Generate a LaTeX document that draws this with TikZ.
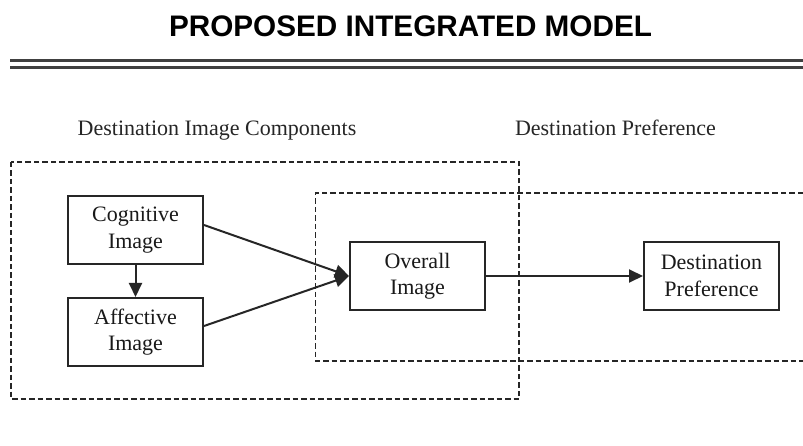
\documentclass[tikz,border=0pt]{standalone}
\usepackage{fontspec}
\setmainfont{Liberation Serif}
\newfontfamily\titlefont{Liberation Sans}
\usetikzlibrary{arrows.meta}

\tikzset{
  imgbox/.style={draw=black!85, line width=2pt, fill=white, minimum width=135pt,
    minimum height=68pt, align=center, inner sep=2pt, text=black!90,
    font=\fontsize{22}{26.4}\selectfont},
  grouplabel/.style={anchor=base, font=\fontsize{22}{26.4}\selectfont, text=black!85},
  groupline/.style={draw=black!85, line width=1.6pt, dash pattern=on 5.5pt off 3pt},
  flow/.style={draw=black!85, line width=2pt, -{Triangle[length=14pt,width=13pt]}}
}

\begin{document}
\begin{tikzpicture}[x=1pt,y=-1pt]
  \useasboundingbox[fill=white] (0,0) rectangle (803,446);

  % heading and rule
  \node[anchor=base, font=\titlefont\bfseries\fontsize{29.7}{34}\selectfont] (title) at (410.5,37) {PROPOSED INTEGRATED MODEL};
  \draw[black!75, line width=2.4pt] (10,60.5)--(803,60.5);
  \draw[black!75, line width=2.4pt] (10,67.5)--(803,67.5);

  % the two groups
  \node[grouplabel] (complabel) at (217,136) {Destination Image Components};
  \node[grouplabel] (preflabel) at (615.5,136) {Destination Preference};
  \draw[groupline] (11,162) rectangle (519,399);
  \draw[groupline] (803,193)--(315.5,193)--(315.5,361)--(803,361);

  % images and preference
  \node[imgbox] (cog) at (135.5,230) {Cognitive\\Image};
  \node[imgbox] (aff) at (135.5,332) {Affective\\Image};
  \node[imgbox] (overall) at (417.5,276) {Overall\\Image};
  \node[imgbox] (pref) at (711.5,276) {Destination\\Preference};

  \draw[flow] (cog.south)--(aff.north);
  \draw[flow] ([yshift=5pt]cog.east)--(overall.west);
  \draw[flow] ([yshift=6pt]aff.east)--(overall.west);
  \draw[flow] (overall.east)--(pref.west);
\end{tikzpicture}
\end{document}
